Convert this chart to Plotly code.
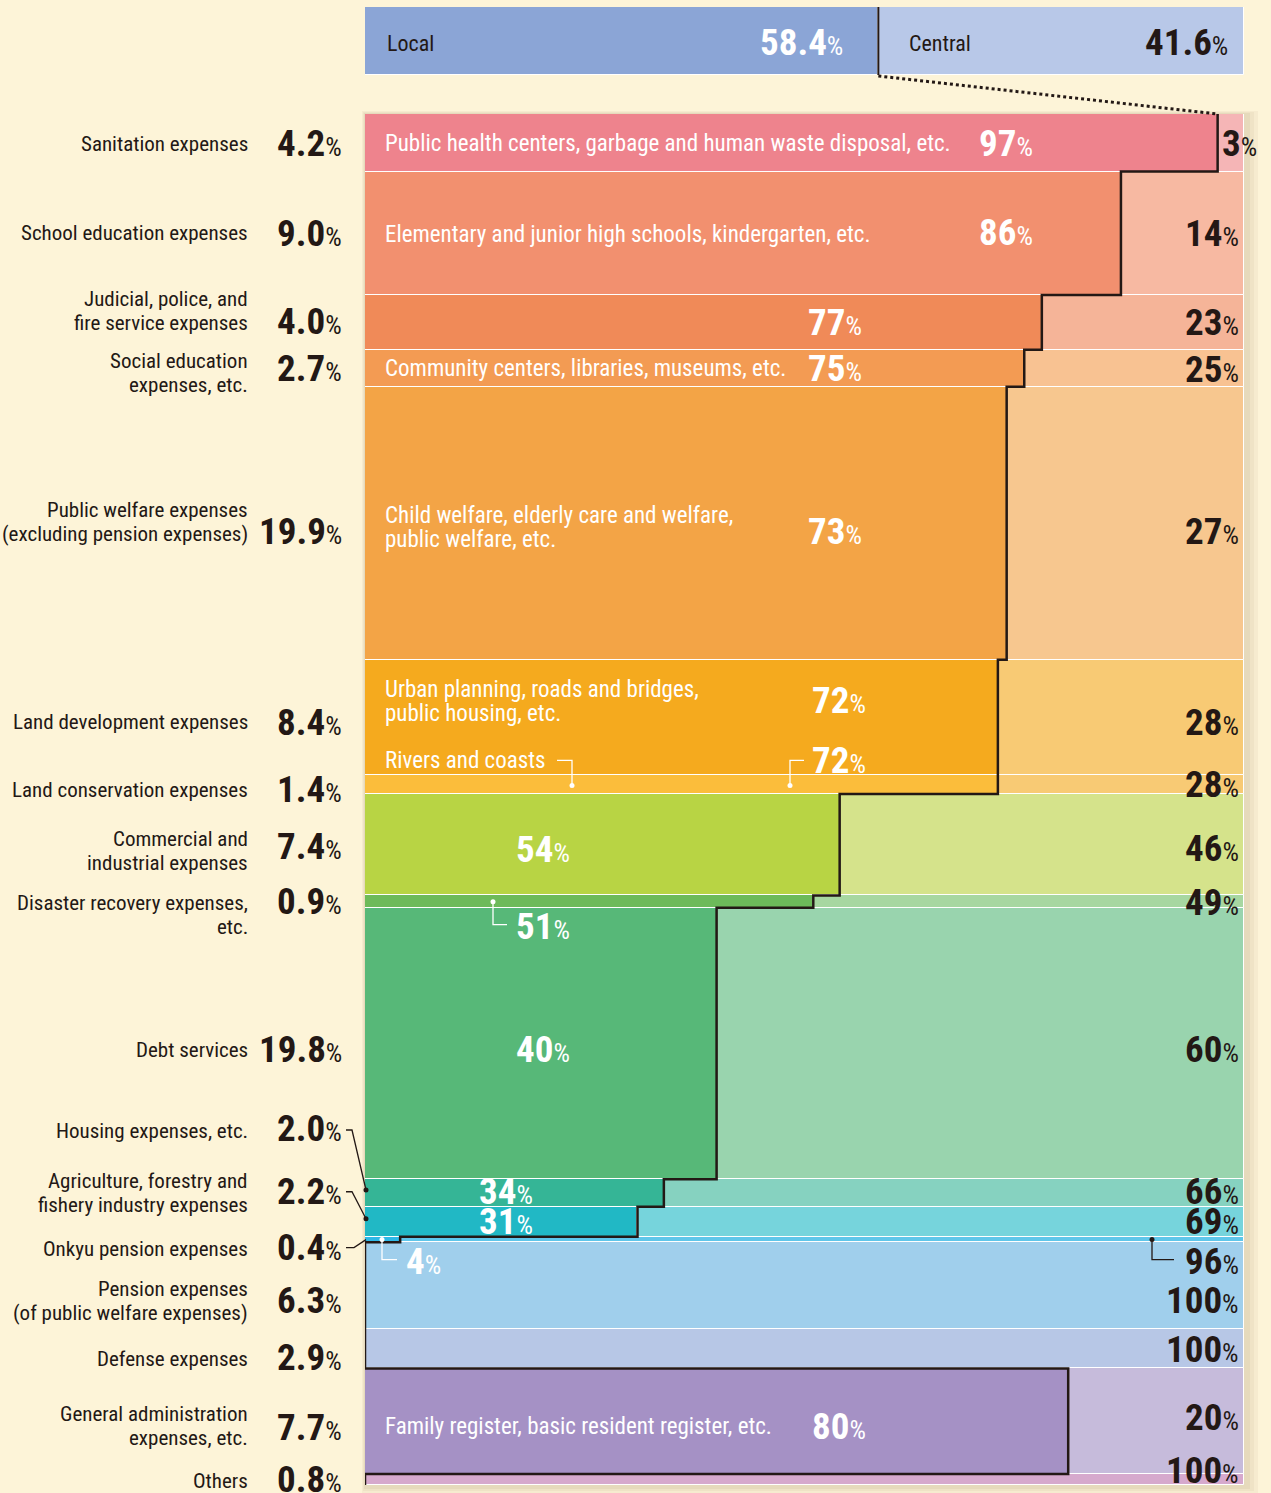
import plotly.graph_objects as go

# ---------------- data ----------------
categories = [
    "Sanitation expenses",
    "School education expenses",
    "Judicial, police, and<br>fire service expenses",
    "Social education<br>expenses, etc.",
    "Public welfare expenses<br>(excluding pension expenses)",
    "Land development expenses",
    "Land conservation expenses",
    "Commercial and<br>industrial expenses",
    "Disaster recovery expenses,<br>etc.",
    "Debt services",
    "Housing expenses, etc.",
    "Agriculture, forestry and<br>fishery industry expenses",
    "Onkyu pension expenses",
    "Pension expenses<br>(of public welfare expenses)",
    "Defense expenses",
    "General administration<br>expenses, etc.",
    "Others",
]
shares = [4.2, 9.0, 4.0, 2.7, 19.9, 8.4, 1.4, 7.4, 0.9, 19.8, 2.0, 2.2, 0.4, 6.3, 2.9, 7.7, 0.8]
local_share = [97, 86, 77, 75, 73, 72, 72, 54, 51, 40, 34, 31, 4, 0, 0, 80, 0]
central_share = [100 - v for v in local_share]
descriptions = [
    "Public health centers, garbage and human waste disposal, etc.",
    "Elementary and junior high schools, kindergarten, etc.",
    "",
    "Community centers, libraries, museums, etc.",
    "Child welfare, elderly care and welfare,<br>public welfare, etc.",
    "Urban planning, roads and bridges,<br>public housing, etc.",
    "Rivers and coasts",
    "", "", "", "", "", "", "", "",
    "Family register, basic resident register, etc.",
    "",
]
total_names = ["Local", "Central"]
total_values = [58.4, 41.6]

# ---------------- styles ----------------
local_colors = ["#ee838d", "#f2906f", "#f08a58", "#f39b53", "#f3a446", "#f5aa1e", "#fbbd3b",
                "#b8d444", "#6dba5a", "#57b878", "#35b596", "#21b8c5", "#2eb8e6", "#a0cfec",
                "#b7c7e6", "#a591c5", "#d6a9cd"]
central_colors = ["#f5b5b6", "#f7b9a2", "#f5b498", "#f8c292", "#f7c78f", "#f8ca74", "#f8ca74",
                  "#d5e38b", "#a7d7a1", "#99d4ae", "#86d2c0", "#76d4dc", "#5fc6ea", "#a0cfec",
                  "#b7c7e6", "#c6bbdb", "#d6a9cd"]
total_colors = ["#8ba5d6", "#b8c8e8"]
BG = "#fdf4d8"
DARK = "#231815"
FONT = "Liberation Sans Narrow, Arial Narrow, Roboto Condensed, DejaVu Sans Condensed, sans-serif"

W, H = 1271, 1493
PX_L, PX_R = 365, 1244
PX_T, PX_B = 114, 1485
TOP_T, TOP_B = 7, 75
SX = (PX_R - PX_L) / 100.0
SY = (PX_B - PX_T) / 100.0

NAME_SIZE = 21
DESC_SIZE = 23
NUM_SIZE = 37
PCT_SIZE = 26
LINE_GAP = 24  # px between text lines

# offsets (image px, + = down) relative to row centres
left_pct_off = [1, 0, -1, 0, 8, 5, 5, 2, 0, 6, -64, -30, 8, 15, 9, 6, 0]
left_name_off = [1, 0, -11, 5, -1, 5, 6, 6, 13, 6, -62, -29, 9, 15, 10, 5, 1]
desc_off = [1, 1, 0, 0, 4, -16, -24, 0, 0, 0, 0, 0, 0, 0, 0, 5, 0]
local_lbl_right_px = [1035, 1035, 864, 864, 864, 868, 868, 572, 572, 572, 535, 535, 443, None, None, 868, None]
local_lbl_off = [1, -1, 0, 0, 8, -17, -24, 5, 25, 6, -1, 0, 22, 0, 0, 5, 0]
central_lbl_off = [1, 0, 0, 1, 8, 5, 0, 4, 1, 6, -1, 0, 22, 15, 1, -4, -9]


def dx(px):
    return (px - PX_L) / SX


def py_paper(py):
    return (H - py) / H


cum_top = []
acc = 0.0
for s in shares:
    cum_top.append(acc)
    acc += s
cum_bot = [t + s for t, s in zip(cum_top, shares)]
centers = [t + s / 2 for t, s in zip(cum_top, shares)]


def yrow(i, off_px):
    return centers[i] + off_px / SY


def pct_text(v, psize=PCT_SIZE):
    return f"<b>{v}</b><span style='font-size:{psize}px'>%</span>"


fig = go.Figure()

# shadow behind main block
for k, a in enumerate([0.05, 0.05, 0.06]):
    fig.add_shape(type="rect", xref="paper", yref="paper", layer="below",
                  x0=(PX_L - 3 + k) / W, x1=(PX_R + 14 - 4 * k) / W,
                  y0=py_paper(PX_B + 8 - 2 * k), y1=py_paper(PX_T - 3 + k),
                  fillcolor=f"rgba(110,80,30,{a})", line=dict(width=0))

# main bars
fig.add_trace(go.Bar(y=centers, x=local_share, base=[0] * len(shares), width=shares,
                     orientation="h", marker=dict(color=local_colors, line=dict(color="white", width=1)),
                     hoverinfo="skip", showlegend=False, xaxis="x", yaxis="y"))
fig.add_trace(go.Bar(y=centers, x=central_share, base=local_share, width=shares,
                     orientation="h", marker=dict(color=central_colors, line=dict(color="white", width=1)),
                     hoverinfo="skip", showlegend=False, xaxis="x", yaxis="y"))

# staircase boundary
sx, sy = [], []
for i in range(len(shares)):
    sx += [local_share[i], local_share[i]]
    sy += [cum_top[i], cum_bot[i]]
fig.add_trace(go.Scatter(x=sx, y=sy, mode="lines", line=dict(color=DARK, width=2.5),
                         hoverinfo="skip", showlegend=False, xaxis="x", yaxis="y"))

# top totals bar
fig.add_trace(go.Bar(y=[0], x=[total_values[0]], base=[0], width=[1], orientation="h",
                     marker=dict(color=total_colors[0], line=dict(color="white", width=1)),
                     hoverinfo="skip", showlegend=False, xaxis="x", yaxis="y2"))
fig.add_trace(go.Bar(y=[0], x=[total_values[1]], base=[total_values[0]], width=[1], orientation="h",
                     marker=dict(color=total_colors[1], line=dict(color="white", width=1)),
                     hoverinfo="skip", showlegend=False, xaxis="x", yaxis="y2"))
fig.add_trace(go.Scatter(x=[total_values[0], total_values[0]], y=[-0.5, 0.5], mode="lines",
                         line=dict(color=DARK, width=2), hoverinfo="skip", showlegend=False,
                         xaxis="x", yaxis="y2"))

# dotted connector
fig.add_shape(type="line", xref="x", yref="paper", x0=total_values[0], x1=local_share[0],
              y0=py_paper(TOP_B + 1), y1=py_paper(PX_T), line=dict(color=DARK, width=3, dash="dot"))

ann = []
# top bar labels
ann.append(dict(x=0, y=0, xref="x", yref="y2", xanchor="left", xshift=20, yshift=-3,
                text=total_names[0], font=dict(size=22, color=DARK)))
ann.append(dict(x=total_values[0], y=0, xref="x", yref="y2", xanchor="right", xshift=-33, yshift=-2,
                text=pct_text(total_values[0]), font=dict(size=NUM_SIZE, color="white")))
ann.append(dict(x=total_values[0], y=0, xref="x", yref="y2", xanchor="left", xshift=29, yshift=-3,
                text=total_names[1], font=dict(size=22, color=DARK)))
ann.append(dict(x=100, y=0, xref="x", yref="y2", xanchor="right", xshift=-14, yshift=-2,
                text=pct_text(total_values[1]), font=dict(size=NUM_SIZE, color=DARK)))

for i, name in enumerate(categories):
    lines = name.split("<br>")
    n = len(lines)
    for j, ln in enumerate(lines):
        off = left_name_off[i] + (j - (n - 1) / 2) * LINE_GAP
        ann.append(dict(x=250 / W, y=yrow(i, off), xref="paper", yref="y", xanchor="right",
                        yanchor="middle", text=ln, font=dict(size=NAME_SIZE, color=DARK)))
    ann.append(dict(x=344 / W, y=yrow(i, left_pct_off[i]), xref="paper", yref="y", xanchor="right",
                    yanchor="middle", text=pct_text(f"{shares[i]:.1f}"),
                    font=dict(size=NUM_SIZE, color=DARK)))
    if descriptions[i]:
        dl = descriptions[i].split("<br>")
        n = len(dl)
        for j, ln in enumerate(dl):
            off = desc_off[i] + (j - (n - 1) / 2) * LINE_GAP
            ann.append(dict(x=0, y=yrow(i, off), xref="x", yref="y", xanchor="left", xshift=18,
                            yanchor="middle", text=ln, font=dict(size=DESC_SIZE, color="white")))
    if local_lbl_right_px[i] is not None:
        ann.append(dict(x=dx(local_lbl_right_px[i]), y=yrow(i, local_lbl_off[i]), xref="x", yref="y",
                        xanchor="right", yanchor="middle", text=pct_text(local_share[i]),
                        font=dict(size=NUM_SIZE, color="white")))
    if i == 0:
        ann.append(dict(x=local_share[i], y=yrow(i, central_lbl_off[i]), xref="x", yref="y",
                        xanchor="left", xshift=2, yanchor="middle", text=pct_text(central_share[i]),
                        font=dict(size=NUM_SIZE, color=DARK)))
    else:
        ann.append(dict(x=100, y=yrow(i, central_lbl_off[i]), xref="x", yref="y",
                        xanchor="right", xshift=-3, yanchor="middle", text=pct_text(central_share[i]),
                        font=dict(size=NUM_SIZE, color=DARK)))

for a in ann:
    a["showarrow"] = False
    a["font"]["family"] = FONT
fig.update_layout(annotations=ann)


def leader(pts, color, xref="x", dot=True):
    path = "M " + " L ".join(f"{x},{y}" for x, y in pts)
    fig.add_shape(type="path", path=path, xref=xref, yref="y",
                  line=dict(color=color, width=1.3))
    if dot:
        x, y = pts[-1]
        fig.add_shape(type="circle", xref=xref, yref="y", xsizemode="pixel", ysizemode="pixel",
                      xanchor=x, yanchor=y, x0=-2.5, x1=2.5, y0=-2.5, y1=2.5,
                      fillcolor=color, line=dict(width=0))


leader([(dx(557), yrow(6, -24)), (dx(572), yrow(6, -24)), (dx(572), yrow(6, 1))], "white")
leader([(dx(804), yrow(6, -24)), (dx(790), yrow(6, -24)), (dx(790), yrow(6, 1))], "white")
leader([(dx(507), yrow(8, 23)), (dx(493), yrow(8, 23)), (dx(493), yrow(8, 0))], "white")
leader([(dx(397), yrow(12, 20)), (dx(382), yrow(12, 20)), (dx(382), yrow(12, 0))], "white")
leader([(dx(1174), yrow(12, 20)), (dx(1152), yrow(12, 20)), (dx(1152), yrow(12, 0))], DARK)
leader([(346 / W, yrow(10, -63)), (352 / W, yrow(10, -63)), (366 / W, yrow(10, -3))], DARK, xref="paper")
leader([(346 / W, yrow(11, -30)), (352 / W, yrow(11, -30)), (366 / W, yrow(11, -3))], DARK, xref="paper")
leader([(346 / W, yrow(12, 8)), (354 / W, yrow(12, 8)), (366 / W, yrow(12, 0))], DARK, xref="paper", dot=False)

fig.update_layout(
    width=W, height=H,
    margin=dict(l=0, r=0, t=0, b=0),
    paper_bgcolor=BG, plot_bgcolor="rgba(0,0,0,0)",
    barmode="overlay", bargap=0,
    showlegend=False,
    font=dict(family=FONT, color=DARK),
    xaxis=dict(domain=[PX_L / W, PX_R / W], range=[0, 100], visible=False, fixedrange=True),
    yaxis=dict(domain=[py_paper(PX_B), py_paper(PX_T)], range=[100, 0], visible=False, fixedrange=True),
    yaxis2=dict(domain=[py_paper(TOP_B), py_paper(TOP_T)], range=[-0.5, 0.5], visible=False,
                fixedrange=True, anchor="x"),
)

page_js = ("document.body.style.margin='0';document.body.style.padding='0';"
           "document.body.style.overflow='hidden';"
           "document.documentElement.style.background='" + BG + "';")
fig.write_html("out.html", post_script=page_js, config={"displayModeBar": False})
